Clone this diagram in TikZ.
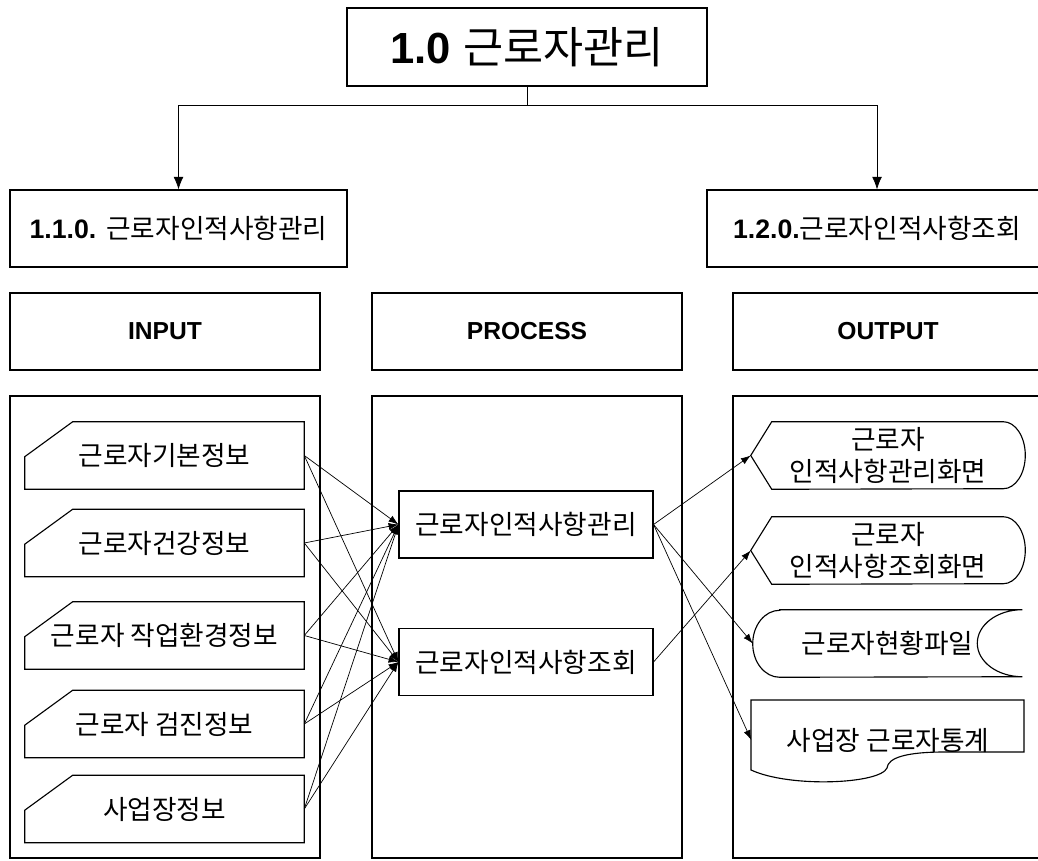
\documentclass[tikz,border=0pt]{standalone}
\usepackage{fontspec}
\setmainfont{Liberation Sans}
\newfontfamily\kr{Noto Sans CJK KR}
\usetikzlibrary{arrows.meta}

\begin{document}
\begin{tikzpicture}[
    box/.style={draw, line width=0.8pt, minimum height=1.925cm, inner sep=0pt, font=\fontsize{19}{23}\selectfont},
    item/.style={minimum height=1.675cm, inner sep=0pt, align=center, font=\kr\fontsize{19}{23}\selectfont},
    outline/.style={line width=0.8pt},
    arr/.style={-{Latex[length=7pt,width=5pt]}, line width=0.5pt},
    bigarr/.style={-{Latex[length=9pt,width=7pt]}, line width=0.5pt}
]
\useasboundingbox (0,0) rectangle (25.95,21.5);

% Top level
\node[box, minimum width=9cm, minimum height=1.95cm, font=\fontsize{31}{36}\selectfont] (top) at (13.175,20.325) {\textbf{1.0} {\kr 근로자관리}};

% Sub functions
\node[box, minimum width=8.425cm] (mng) at (4.4625,15.7875) {\textbf{1.1.0.} {\kr 근로자인적사항관리}};
\node[box, minimum width=8.5cm] (qry) at (21.925,15.7875) {\textbf{1.2.0.}{\kr 근로자인적사항조회}};

\coordinate (split) at (13.175,18.875);
\draw[line width=0.5pt] (top) -- (split);
\draw[bigarr] (split) -| (mng.north);
\draw[bigarr] (split) -| (qry.north);

% Column headers
\node[box, minimum width=7.75cm, font=\bfseries\fontsize{17.5}{21}\selectfont] (input) at (4.125,13.2125) {INPUT};
\node[box, minimum width=7.75cm, font=\bfseries\fontsize{17.5}{21}\selectfont] (process) at (13.175,13.2125) {PROCESS};
\node[box, minimum width=7.75cm, font=\bfseries\fontsize{17.5}{21}\selectfont] (output) at (22.2,13.2125) {OUTPUT};

% Column frames
\node[box, minimum width=7.75cm, minimum height=11.55cm] (inframe) at (4.125,5.825) {};
\node[box, minimum width=7.75cm, minimum height=11.55cm] (procframe) at (13.175,5.825) {};
\node[box, minimum width=7.75cm, minimum height=11.55cm] (outframe) at (22.2,5.825) {};

% Input data (manual input shape)
\foreach \name/\y/\txt in {basic/10.1125/근로자기본정보, health/7.925/근로자건강정보, env/5.6125/근로자 작업환경정보, exam/3.4/근로자 검진정보, site/1.275/사업장정보}
{
  \node[item, minimum width=6.975cm] (\name) at (4.1125,\y) {\txt};
  \draw[outline] ([xshift=1.2cm]\name.north west) -- (\name.north east) -- (\name.south east) -- (\name.south west) -- ([yshift=-0.875cm]\name.north west) -- cycle;
}

% Processes
\node[item, draw, line width=0.8pt, minimum width=6.35cm] (pmng) at (13.15,8.3875) {근로자인적사항관리};
\node[item, draw, line width=0.8pt, minimum width=6.35cm] (pqry) at (13.15,4.95) {근로자인적사항조회};

% Input -> process
\foreach \name in {basic,health,env,exam,site}
{
  \draw[arr] (\name.east) -- (pmng.west);
  \draw[arr] (\name.east) -- (pqry.west);
}

% Outputs (display screens)
\node[item, minimum width=6.85cm] (scrmng) at (22.2,10.1125) {근로자\\인적사항관리화면};
\node[item, minimum width=6.85cm] (scrqry) at (22.2,7.7375) {근로자\\인적사항조회화면};
\foreach \name in {scrmng,scrqry}
  \draw[outline] (\name.west) -- ([xshift=0.525cm]\name.north west) -- ([xshift=-0.55cm]\name.north east) arc[start angle=90,end angle=-90,x radius=0.55cm,y radius=0.8375cm] -- ([xshift=0.525cm]\name.south west) -- cycle;

% Stored file
\node[item, minimum width=6.725cm] (file) at (22.1875,5.4125) {근로자현황파일};
\draw[outline] ([xshift=0.675cm]file.north west) -- (file.north east) arc[start angle=90,end angle=270,x radius=1.125cm,y radius=0.8375cm] -- ([xshift=0.675cm]file.south west) arc[start angle=270,end angle=90,x radius=0.675cm,y radius=0.8375cm] -- cycle;

% Document
\node[item, minimum width=6.825cm, minimum height=1.3cm] (stat) at (22.2,3.0) {사업장 근로자통계};
\draw[outline] (18.775,4.0) -- (25.6,4.0) -- (25.6,2.7) -- (23.625,2.7)
    .. controls (22.625,2.7) and (22.2,2.55) .. (22.175,2.3)
    .. controls (22.0,1.9) and (19.75,1.8) .. (18.775,2.25) -- cycle;

% Process -> output
\draw[arr] (pmng.east) -- (scrmng.west);
\draw[arr] (pmng.east) -- (file.west);
\draw[arr] (pmng.east) -- (stat.west);
\draw[arr] (pqry.east) -- (scrqry.west);

\end{tikzpicture}
\end{document}
